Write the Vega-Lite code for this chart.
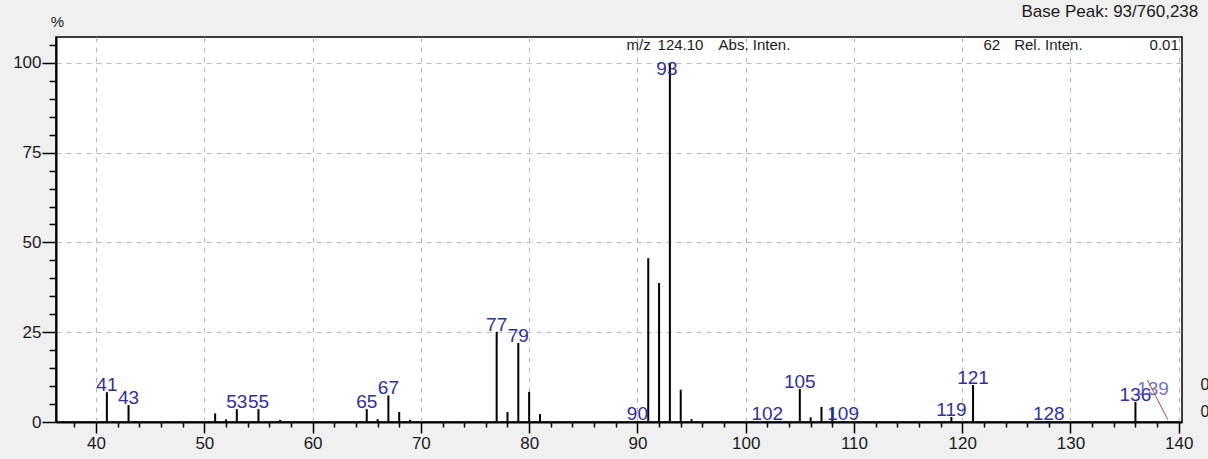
{
  "$schema": "https://vega.github.io/schema/vega-lite/v6.json",
  "width": 1126,
  "height": 385,
  "autosize": {"type": "none"},
  "padding": {"left": 56, "top": 37, "right": 26, "bottom": 37},
  "background": "#f0f0f0",
  "config": {
    "view": {"fill": "white", "stroke": "black", "strokeWidth": 1.5},
    "font": "Liberation Sans"
  },
  "datasets": {
    "peaks": [
      {"mz": 41, "rel": 8.3, "label": "41"},
      {"mz": 43, "rel": 4.7, "label": "43"},
      {"mz": 51, "rel": 2.4, "label": null},
      {"mz": 52, "rel": 0.7, "label": null},
      {"mz": 53, "rel": 3.6, "label": "53"},
      {"mz": 55, "rel": 3.6, "label": "55"},
      {"mz": 57, "rel": 0.6, "label": null},
      {"mz": 65, "rel": 3.6, "label": "65"},
      {"mz": 66, "rel": 0.8, "label": null},
      {"mz": 67, "rel": 7.4, "label": "67"},
      {"mz": 68, "rel": 2.8, "label": null},
      {"mz": 69, "rel": 0.6, "label": null},
      {"mz": 77, "rel": 25.1, "label": "77"},
      {"mz": 78, "rel": 2.8, "label": null},
      {"mz": 79, "rel": 22.0, "label": "79"},
      {"mz": 80, "rel": 8.4, "label": null},
      {"mz": 81, "rel": 2.2, "label": null},
      {"mz": 90, "rel": 0.2, "label": "90"},
      {"mz": 91, "rel": 45.6, "label": null},
      {"mz": 92, "rel": 38.7, "label": null},
      {"mz": 93, "rel": 100, "label": null},
      {"mz": 94, "rel": 9.0, "label": null},
      {"mz": 95, "rel": 0.8, "label": null},
      {"mz": 102, "rel": 0.2, "label": "102"},
      {"mz": 105, "rel": 9.2, "label": "105"},
      {"mz": 106, "rel": 1.3, "label": null},
      {"mz": 107, "rel": 4.2, "label": null},
      {"mz": 108, "rel": 4.0, "label": null},
      {"mz": 109, "rel": 0.2, "label": "109"},
      {"mz": 119, "rel": 1.4, "label": "119"},
      {"mz": 121, "rel": 10.3, "label": "121"},
      {"mz": 128, "rel": 0.2, "label": "128"},
      {"mz": 136, "rel": 5.6, "label": "136"},
      {"mz": 139, "rel": 0.2, "label": null}
    ],
    "special": [
      {"mz": 93, "rel": 100, "label": "93"}
    ],
    "special139": [
      {"mz": 139, "rel": 0.2, "label": "139"}
    ],
    "headerLeft": [
      {"text": "m/z", "mz": 89.0, "rel": 104.9},
      {"text": "Abs. Inten.", "mz": 97.5, "rel": 104.9},
      {"text": "Rel. Inten.", "mz": 124.8, "rel": 104.9}
    ],
    "headerRight": [
      {"text": "124.10", "mz": 96.1, "rel": 104.9},
      {"text": "62", "mz": 123.5, "rel": 104.9},
      {"text": "0.01", "mz": 140.0, "rel": 104.9}
    ],
    "basePeak": [
      {"text": "Base Peak: 93/760,238", "mz": 141.8, "rel": 114.2}
    ],
    "stroke139": [
      {"mz": 137.1, "rel": 11.7, "mz2": 139.0, "rel2": 0.6}
    ],
    "edge": [
      {"text": "0", "mz": 142.0, "rel": 10.3},
      {"text": "0", "mz": 142.0, "rel": 2.8}
    ]
  },
  "layer": [
    {
      "data": {"name": "peaks"},
      "mark": {"type": "rule", "color": "black", "strokeWidth": 2},
      "encoding": {
        "x": {
          "field": "mz",
          "type": "quantitative",
          "scale": {"domain": [36.3, 140.3], "nice": false, "zero": false},
          "axis": {
            "title": null,
            "tickCount": 200,
            "format": "d",
            "values": [38, 40, 42, 44, 46, 48, 50, 52, 54, 56, 58, 60, 62, 64, 66, 68, 70, 72, 74, 76, 78, 80, 82, 84, 86, 88, 90, 92, 94, 96, 98, 100, 102, 104, 106, 108, 110, 112, 114, 116, 118, 120, 122, 124, 126, 128, 130, 132, 134, 136, 138, 140],
            "labelExpr": "datum.value % 10 === 0 ? datum.label : ''",
            "labelFontSize": 17,
            "labelColor": "#1a1a1a",
            "labelPadding": 2,
            "labelFlush": false,
            "labelOverlap": false,
            "domainColor": "black",
            "domainWidth": 2,
            "tickColor": "black",
            "tickWidth": 1.5,
            "tickSize": {"condition": {"test": "datum.value % 10 === 0", "value": 11}, "value": 5},
            "grid": true,
            "gridColor": "#b8b8b8",
            "gridDash": [5, 5],
            "gridWidth": 1,
            "gridOpacity": {"condition": {"test": "datum.value % 10 === 0", "value": 1}, "value": 0}
          }
        },
        "y": {
          "field": "rel",
          "type": "quantitative",
          "scale": {"domain": [0, 107.2], "nice": false},
          "axis": {
            "title": "%",
            "titleAngle": 0,
            "titleX": 1,
            "titleY": -16,
            "titleAlign": "center",
            "titleBaseline": "middle",
            "titleFontSize": 15,
            "titleFontWeight": "normal",
            "titleColor": "#1a1a1a",
            "tickCount": 200,
            "format": "d",
            "values": [0, 5, 10, 15, 20, 25, 30, 35, 40, 45, 50, 55, 60, 65, 70, 75, 80, 85, 90, 95, 100, 105],
            "labelExpr": "datum.value % 25 === 0 ? datum.label : ''",
            "labelFontSize": 17,
            "labelColor": "#1a1a1a",
            "labelPadding": 1,
            "labelFlush": false,
            "labelOverlap": false,
            "domainColor": "black",
            "domainWidth": 2,
            "tickColor": "black",
            "tickWidth": 1.5,
            "tickSize": {"condition": {"test": "datum.value % 25 === 0", "value": 14}, "value": 7},
            "grid": true,
            "gridColor": "#b8b8b8",
            "gridDash": [5, 5],
            "gridWidth": 1,
            "gridOpacity": {"condition": {"test": "datum.value % 25 === 0 && datum.value > 0", "value": 1}, "value": 0}
          }
        },
        "y2": {"datum": 0}
      }
    },
    {
      "data": {"name": "peaks"},
      "transform": [{"filter": "datum.label != null"}],
      "mark": {"type": "text", "color": "#30309a", "fontSize": 19, "baseline": "alphabetic", "align": "center", "dy": -1},
      "encoding": {
        "x": {"field": "mz", "type": "quantitative"},
        "y": {"field": "rel", "type": "quantitative"},
        "text": {"field": "label"}
      }
    },
    {
      "data": {"name": "special"},
      "mark": {"type": "text", "color": "#30309a", "fontSize": 19, "baseline": "top", "align": "center", "dy": -3, "dx": -3},
      "encoding": {
        "x": {"field": "mz", "type": "quantitative"},
        "y": {"field": "rel", "type": "quantitative"},
        "text": {"field": "label"}
      }
    },
    {
      "data": {"name": "special139"},
      "mark": {"type": "text", "color": "#5050c0", "opacity": 0.8, "fontSize": 19, "baseline": "alphabetic", "align": "center", "dy": -26, "dx": -15},
      "encoding": {
        "x": {"field": "mz", "type": "quantitative"},
        "y": {"field": "rel", "type": "quantitative"},
        "text": {"field": "label"}
      }
    },
    {
      "data": {"name": "stroke139"},
      "mark": {"type": "rule", "color": "#b04a4a", "strokeWidth": 1},
      "encoding": {
        "x": {"field": "mz", "type": "quantitative"},
        "y": {"field": "rel", "type": "quantitative"},
        "x2": {"field": "mz2"},
        "y2": {"field": "rel2"}
      }
    },
    {
      "data": {"name": "headerLeft"},
      "mark": {"type": "text", "color": "#1a1a1a", "fontSize": 15, "baseline": "middle", "align": "left"},
      "encoding": {
        "x": {"field": "mz", "type": "quantitative"},
        "y": {"field": "rel", "type": "quantitative"},
        "text": {"field": "text"}
      }
    },
    {
      "data": {"name": "headerRight"},
      "mark": {"type": "text", "color": "#1a1a1a", "fontSize": 15, "baseline": "middle", "align": "right"},
      "encoding": {
        "x": {"field": "mz", "type": "quantitative"},
        "y": {"field": "rel", "type": "quantitative"},
        "text": {"field": "text"}
      }
    },
    {
      "data": {"name": "basePeak"},
      "mark": {"type": "text", "color": "#1a1a1a", "fontSize": 17, "baseline": "middle", "align": "right", "clip": false},
      "encoding": {
        "x": {"field": "mz", "type": "quantitative"},
        "y": {"field": "rel", "type": "quantitative"},
        "text": {"field": "text"}
      }
    },
    {
      "data": {"name": "edge"},
      "mark": {"type": "text", "color": "#1a1a1a", "fontSize": 16, "baseline": "middle", "align": "left", "clip": false},
      "encoding": {
        "x": {"field": "mz", "type": "quantitative"},
        "y": {"field": "rel", "type": "quantitative"},
        "text": {"field": "text"}
      }
    }
  ]
}
